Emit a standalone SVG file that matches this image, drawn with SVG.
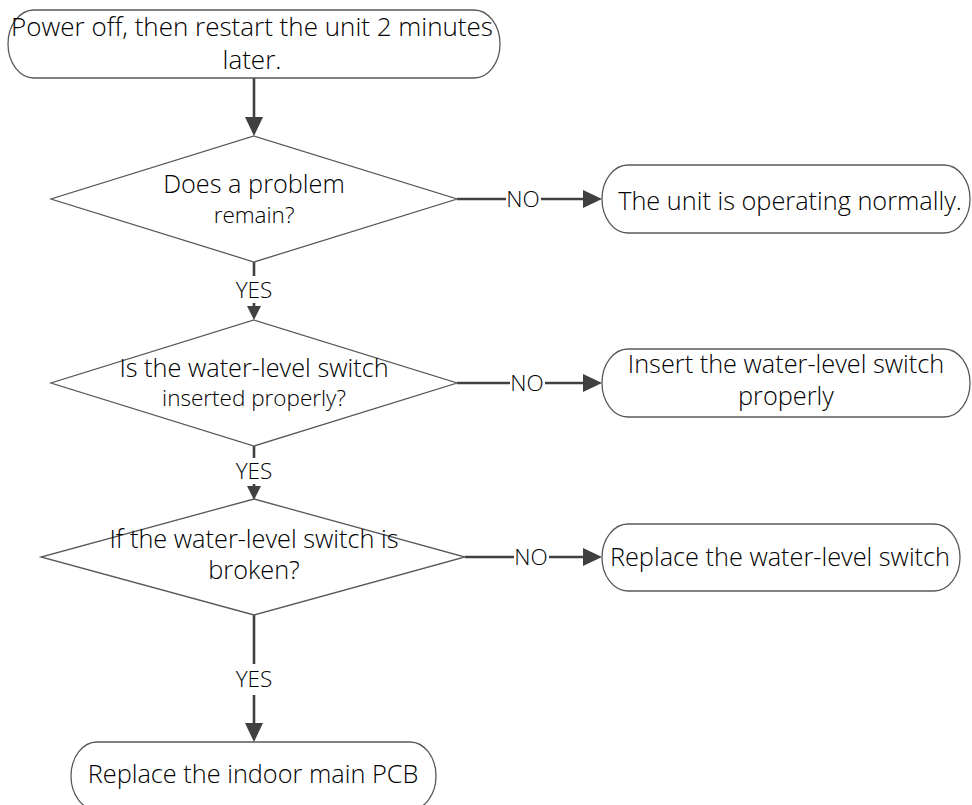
<svg xmlns="http://www.w3.org/2000/svg" width="972" height="805" viewBox="0 0 972 805">
<defs>
<style>
.shape{fill:#ffffff;stroke:#595959;stroke-width:1.3}
.conn{fill:none;stroke:#404040;stroke-width:2.6}
.t{font-family:"Open Sans","Noto Sans",sans-serif;font-weight:350;font-size:25.3px;fill:#000000;text-anchor:middle}
.ts{font-size:22.5px}
.lbl{font-family:"Open Sans","Noto Sans",sans-serif;font-weight:350;font-size:22.5px;fill:#000000;text-anchor:middle}
</style>
<marker id="big" markerUnits="userSpaceOnUse" markerWidth="19" markerHeight="18" refX="0" refY="9" orient="auto">
<path d="M0,0 L19,9 L0,18 Z" fill="#404040"/>
</marker>
<marker id="small" markerUnits="userSpaceOnUse" markerWidth="14" markerHeight="14" refX="0" refY="7" orient="auto">
<path d="M0,0 L14,7 L0,14 Z" fill="#404040"/>
</marker>
</defs>
<rect width="972" height="805" fill="#ffffff"/>

<g id="connectors">
<line class="conn" x1="254" y1="78" x2="254" y2="117" marker-end="url(#big)"/>
<line class="conn" x1="457" y1="199" x2="506" y2="199"/>
<line class="conn" x1="541" y1="199" x2="583" y2="199" marker-end="url(#big)"/>
<line class="conn" x1="254" y1="262" x2="254" y2="276"/>
<line class="conn" x1="254" y1="303" x2="254" y2="306" marker-end="url(#small)"/>
<line class="conn" x1="457" y1="383" x2="510" y2="383"/>
<line class="conn" x1="545" y1="383" x2="583" y2="383" marker-end="url(#big)"/>
<line class="conn" x1="254" y1="446" x2="254" y2="458"/>
<line class="conn" x1="254" y1="484" x2="254" y2="486" marker-end="url(#small)"/>
<line class="conn" x1="465" y1="557" x2="514" y2="557"/>
<line class="conn" x1="549" y1="557" x2="583" y2="557" marker-end="url(#big)"/>
<line class="conn" x1="254" y1="615" x2="254" y2="664"/>
<line class="conn" x1="254" y1="695" x2="254" y2="723" marker-end="url(#big)"/>
<text class="lbl" x="254" y="298">YES</text>
<text class="lbl" x="523" y="207">NO</text>
<text class="lbl" x="527" y="391">NO</text>
<text class="lbl" x="531" y="565">NO</text>
<text class="lbl" x="254" y="479">YES</text>
<text class="lbl" x="254" y="687">YES</text>
</g>

<g id="start">
<rect class="shape" x="8" y="10" width="492" height="68" rx="26" ry="34"/>
<text class="t" x="252" y="36" style="font-size:26px">Power off, then restart the unit 2 minutes</text>
<text class="t" x="252" y="69" style="font-size:26px">later.</text>
</g>

<g id="decision1">
<polygon class="shape" points="254,136 457,199 254,262 51,199"/>
<text class="t" x="254" y="193">Does a problem</text>
<text class="t ts" x="254" y="223">remain?</text>
</g>

<g id="normal">
<rect class="shape" x="602" y="165" width="368" height="68" rx="26" ry="34"/>
<text class="t" x="790" y="210">The unit is operating normally.</text>
</g>

<g id="decision2">
<polygon class="shape" points="254,320 457,383 254,446 51,383"/>
<text class="t" x="254" y="377">Is the water-level switch</text>
<text class="t ts" x="254" y="406">inserted properly?</text>
</g>

<g id="insert">
<rect class="shape" x="602" y="349" width="368" height="68" rx="26" ry="34"/>
<text class="t" x="786" y="373">Insert the water-level switch</text>
<text class="t" x="786" y="405">properly</text>
</g>

<g id="decision3">
<polygon class="shape" points="254,499 465,557 254,615 41,557"/>
<text class="t" x="254" y="548">If the water-level switch is</text>
<text class="t" x="254" y="579">broken?</text>
</g>

<g id="replaceSwitch">
<rect class="shape" x="602" y="524" width="358" height="67" rx="26" ry="33.5"/>
<text class="t" x="780" y="566">Replace the water-level switch</text>
</g>

<g id="replacePCB">
<rect class="shape" x="71" y="742" width="365" height="68" rx="26" ry="34"/>
<text class="t" x="253" y="783">Replace the indoor main PCB</text>
</g>
</svg>
